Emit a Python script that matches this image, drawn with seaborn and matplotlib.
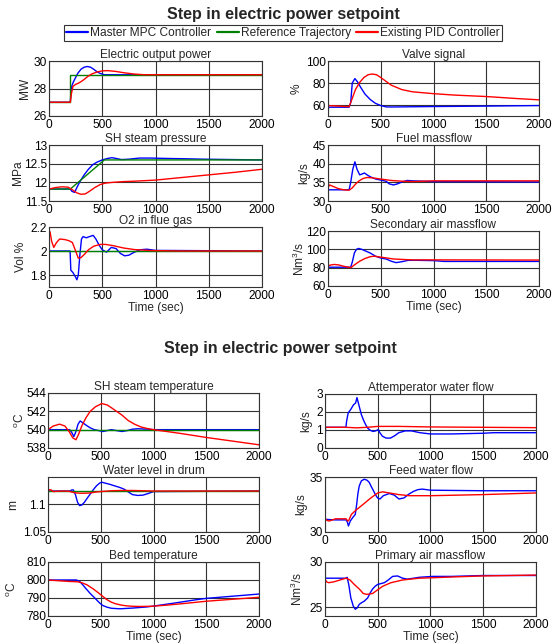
import matplotlib
matplotlib.use("Agg")
import matplotlib.pyplot as plt
from matplotlib.lines import Line2D
from matplotlib.ticker import FormatStrFormatter
import pandas as pd
import seaborn as sns

# ---------------- data ----------------
TITLE = "Step in electric power setpoint"
SERIES_NAMES = ["Master MPC Controller", "Reference Trajectory", "Existing PID Controller"]
X_TICKS = [0, 500, 1000, 1500, 2000]

# Electric output power (MW)
elec_mpc_t = [0, 200, 205, 215, 230, 250, 270, 300, 330, 360, 390, 420, 450, 480, 520, 2000]
elec_mpc_v = [27, 27, 27.6, 28.2, 28.5, 28.8, 29.1, 29.4, 29.55, 29.6, 29.55, 29.4, 29.22, 29.1, 29.0, 29.0]
elec_ref_t = [0, 200, 200, 2000]
elec_ref_v = [27, 27, 29, 29]
elec_pid_t = [0, 200, 210, 225, 250, 280, 320, 360, 400, 450, 500, 550, 620, 700, 800, 900, 2000]
elec_pid_v = [27, 27, 27.6, 28.15, 28.3, 28.4, 28.6, 28.85, 29.05, 29.2, 29.28, 29.3, 29.25, 29.15, 29.05, 29.0, 29.0]

# Valve signal (%)
valve_mpc_t = [0, 5, 200, 215, 230, 255, 280, 310, 350, 400, 450, 500, 550, 600, 1000, 1500, 2000]
valve_mpc_v = [50, 58, 58, 62, 80, 84, 81, 76, 70, 65, 61.5, 59.5, 58.3, 58.2, 58.6, 59.0, 59.5]
valve_pid_t = [0, 100, 200, 230, 260, 300, 340, 380, 420, 460, 500, 550, 600, 700, 800, 1000, 1200, 1500, 1800, 2000]
valve_pid_v = [59.5, 59, 58.5, 66, 74, 80.5, 85, 87.5, 88.2, 87.5, 85, 81.5, 78, 74, 72, 70.3, 69, 67.7, 65.8, 64.7]

# SH steam pressure (MPa)
shp_mpc_t = [0, 200, 215, 240, 260, 290, 330, 370, 410, 450, 500, 550, 590, 630, 680, 750, 850, 950, 1100, 1300, 1450, 2000]
shp_mpc_v = [11.82, 11.82, 11.76, 11.73, 11.85, 12.02, 12.2, 12.35, 12.47, 12.54, 12.6, 12.64, 12.66, 12.64, 12.61, 12.62, 12.65, 12.65, 12.64, 12.63, 12.62, 12.6]
shp_ref_t = [0, 200, 520, 2000]
shp_ref_v = [11.82, 11.82, 12.6, 12.6]
shp_pid_t = [0, 60, 120, 180, 220, 260, 300, 340, 380, 430, 480, 530, 600, 700, 800, 1000, 1250, 1500, 1750, 2000]
shp_pid_v = [11.82, 11.86, 11.88, 11.87, 11.8, 11.72, 11.68, 11.69, 11.76, 11.86, 11.94, 11.98, 12.0, 12.02, 12.03, 12.06, 12.13, 12.2, 12.27, 12.35]

# Fuel massflow (kg/s)
fuel_mpc_t = [0, 200, 215, 235, 255, 275, 300, 320, 345, 370, 400, 450, 500, 550, 580, 620, 660, 700, 750, 800, 900, 1000, 2000]
fuel_mpc_v = [33, 33, 35, 38.5, 40.5, 38.5, 37, 37.2, 37.5, 37, 36.5, 35.9, 35.6, 35.3, 34.6, 34.3, 34.6, 35.1, 35.5, 35.4, 35.3, 35.2, 35.1]
fuel_pid_t = [0, 15, 40, 100, 150, 200, 230, 260, 290, 330, 370, 420, 470, 520, 600, 700, 800, 1000, 2000]
fuel_pid_v = [33.5, 34.3, 34.0, 33.3, 33.0, 32.9, 33.5, 34.5, 35.3, 36.0, 36.3, 36.2, 36.0, 35.8, 35.5, 35.3, 35.2, 35.4, 35.4]

# O2 in flue gas (Vol %)
o2_mpc_t = [0, 198, 205, 225, 245, 262, 275, 290, 305, 320, 350, 380, 415, 440, 470, 500, 540, 585, 630, 670, 710, 750, 790, 850, 920, 1000, 2000]
o2_mpc_v = [2.0, 2.0, 1.84, 1.82, 1.79, 1.76, 1.8, 1.97, 2.1, 2.12, 2.11, 2.12, 2.13, 2.1, 2.05, 2.01, 1.99, 2.03, 2.02, 1.98, 1.96, 1.965, 1.985, 2.01, 2.015, 2.005, 2.0]
o2_ref_t = [0, 2000]
o2_ref_v = [2.0, 2.0]
o2_pid_t = [0, 10, 25, 45, 70, 100, 150, 190, 220, 250, 275, 300, 330, 370, 420, 480, 530, 600, 700, 800, 950, 1200, 2000]
o2_pid_v = [2.14, 2.16, 2.08, 2.03, 2.07, 2.1, 2.095, 2.085, 2.07, 2.0, 1.94, 1.945, 1.97, 2.01, 2.04, 2.055, 2.055, 2.045, 2.025, 2.012, 2.004, 2.0, 2.0]

# Secondary air massflow (Nm3/s)
sec_mpc_t = [0, 215, 230, 250, 270, 290, 320, 360, 400, 450, 500, 550, 600, 645, 700, 760, 850, 1000, 1100, 2000]
sec_mpc_v = [80.5, 80.5, 86, 96, 100, 101, 100, 98, 96, 92.5, 90.5, 89.5, 87, 85.5, 86.5, 88, 88, 87.7, 86.8, 86.8]
sec_pid_t = [0, 30, 60, 100, 150, 200, 220, 250, 300, 350, 400, 440, 500, 560, 620, 700, 800, 1000, 2000]
sec_pid_v = [82, 83, 83.5, 83, 81.5, 80.3, 80.2, 83, 87, 90, 92, 92.5, 91.5, 90.5, 89.5, 89, 88.5, 88.5, 88.3]

# SH steam temperature (oC)
sht_mpc_t = [0, 205, 225, 245, 265, 285, 305, 330, 360, 400, 440, 480, 520, 560, 600, 650, 700, 750, 800, 850, 950, 1000, 2000]
sht_mpc_v = [540, 540, 539.7, 539.25, 539.8, 540.6, 540.95, 540.75, 540.5, 540.2, 540.0, 539.9, 539.8, 539.9, 540.0, 539.9, 539.8, 539.9, 540.05, 540.1, 540.05, 540.0, 540.0]
sht_ref_t = [0, 2000]
sht_ref_v = [540, 540]
sht_pid_t = [0, 50, 110, 160, 200, 235, 265, 290, 320, 360, 400, 450, 510, 560, 600, 650, 700, 760, 820, 880, 950, 1000, 1250, 1500, 1750, 2000]
sht_pid_v = [540, 540.4, 540.6, 540.4, 539.8, 539.1, 538.9, 539.5, 540.4, 541.3, 542.0, 542.5, 542.85, 542.7, 542.4, 542.0, 541.6, 541.0, 540.6, 540.3, 540.1, 540.0, 539.6, 539.15, 538.75, 538.35]

# Attemperator water flow (kg/s)
att_mpc_t = [0, 5, 198, 205, 220, 245, 270, 290, 303, 325, 345, 365, 385, 405, 430, 455, 480, 505, 520, 545, 580, 620, 660, 700, 760, 820, 900, 1000, 1200, 1500, 1600, 2000]
att_mpc_v = [0.0, 1.15, 1.15, 1.5, 1.95, 2.15, 2.4, 2.5, 2.8, 2.3, 1.85, 1.55, 1.3, 1.1, 0.98, 0.92, 0.95, 1.02, 0.85, 0.65, 0.55, 0.55, 0.68, 0.85, 0.95, 0.95, 0.85, 0.78, 0.78, 0.82, 0.85, 0.85]
att_pid_t = [0, 200, 300, 400, 500, 700, 1000, 1500, 2000]
att_pid_v = [1.15, 1.15, 1.12, 1.15, 1.2, 1.2, 1.17, 1.15, 1.13]

# Water level in drum (m)
lvl_mpc_t = [0, 210, 225, 240, 260, 280, 300, 320, 345, 370, 400, 430, 460, 490, 510, 540, 580, 630, 680, 720, 760, 800, 850, 900, 950, 1000, 2000]
lvl_mpc_v = [1.1245, 1.1245, 1.1265, 1.1265, 1.118, 1.104, 1.098, 1.099, 1.104, 1.111, 1.119, 1.127, 1.134, 1.139, 1.1405, 1.139, 1.137, 1.134, 1.131, 1.128, 1.123, 1.118, 1.1165, 1.117, 1.120, 1.1235, 1.1245]
lvl_ref_t = [0, 2000]
lvl_ref_v = [1.1245, 1.1245]
lvl_pid_t = [0, 15, 30, 50, 80, 150, 200, 250, 300, 350, 400, 450, 500, 600, 700, 800, 900, 1000, 2000]
lvl_pid_v = [1.124, 1.127, 1.1265, 1.1235, 1.124, 1.1245, 1.124, 1.1215, 1.1205, 1.1205, 1.121, 1.1225, 1.1235, 1.125, 1.1255, 1.1255, 1.125, 1.1245, 1.1245]

# Feed water flow (kg/s)
fw_mpc_t = [0, 3, 100, 200, 212, 222, 240, 262, 287, 300, 312, 325, 345, 372, 400, 420, 440, 457, 478, 498, 521, 553, 610, 657, 701, 749, 796, 840, 880, 922, 1000, 1500, 2000]
fw_mpc_v = [32.3, 31.15, 31.1, 31.1, 30.9, 30.55, 31.0, 31.3, 31.6, 32.5, 33.5, 34.2, 34.65, 34.8, 34.7, 34.5, 34.1, 33.8, 33.4, 33.1, 33.0, 33.3, 33.5, 33.35, 33.0, 33.1, 33.45, 33.7, 33.85, 33.9, 33.8, 33.75, 33.75]
fw_pid_t = [0, 20, 40, 100, 200, 215, 225, 250, 295, 360, 435, 500, 545, 610, 700, 800, 1000, 1500, 2000]
fw_pid_v = [31.2, 31.05, 31.0, 31.2, 31.2, 31.0, 31.05, 31.6, 32.0, 32.5, 33.1, 33.55, 33.65, 33.55, 33.4, 33.3, 33.3, 33.4, 33.55]

# Bed temperature (oC)
bed_mpc_t = [0, 270, 300, 330, 360, 400, 430, 460, 490, 520, 560, 600, 680, 800, 930, 1000, 1200, 1400, 1500, 1750, 2000]
bed_mpc_v = [800, 800, 799.2, 797.3, 795.2, 792.5, 790.8, 789, 787.2, 785.8, 784.9, 784.3, 784.0, 784.4, 785.0, 785.5, 787.2, 789, 789.8, 791, 792.2]
bed_pid_t = [0, 100, 200, 280, 320, 370, 430, 490, 555, 600, 640, 700, 750, 800, 870, 980, 1120, 1300, 1500, 1750, 2000]
bed_pid_v = [800, 799.6, 799.2, 799.0, 798.5, 797.3, 795.0, 792.3, 789.2, 787.7, 786.8, 786.0, 785.6, 785.4, 785.3, 785.4, 786.0, 787.0, 788.2, 789.3, 790.4]

# Primary air massflow (Nm3/s)
pa_mpc_t = [0, 200, 210, 225, 245, 268, 287, 305, 325, 350, 372, 404, 430, 451, 475, 498, 530, 562, 600, 641, 688, 735, 782, 840, 893, 1020, 1200, 1500, 2000]
pa_mpc_v = [28.2, 28.2, 28.3, 27.5, 26.0, 25.1, 24.75, 24.9, 25.3, 25.5, 25.65, 26.0, 26.6, 27.0, 27.3, 27.5, 27.6, 27.7, 28.0, 28.4, 28.45, 28.2, 28.1, 28.2, 28.3, 28.4, 28.4, 28.5, 28.5]
pa_pid_t = [0, 15, 35, 85, 142, 199, 237, 278, 325, 363, 395, 451, 498, 546, 625, 735, 893, 1020, 1240, 1490, 1750, 2000]
pa_pid_v = [28.1, 27.8, 27.7, 27.8, 28.0, 28.2, 28.0, 27.5, 27.0, 26.5, 26.4, 26.5, 26.9, 27.3, 27.7, 28.0, 28.2, 28.25, 28.35, 28.45, 28.5, 28.55]

# ---------------- style ----------------
sns.set_theme(style="white")
plt.rcParams["font.family"] = ["Liberation Sans", "DejaVu Sans"]
plt.rcParams["mathtext.fontset"] = "custom"
plt.rcParams["mathtext.rm"] = "Liberation Sans"
plt.rcParams["mathtext.it"] = "Liberation Sans:italic"
plt.rcParams["mathtext.bf"] = "Liberation Sans:bold"

COLORS = {"mpc": "#0000ff", "ref": "#008000", "pid": "#ff0000"}
LW = 1.0
FS = 8.6
GRID_C = "#333333"
EDGE_C = "#333333"
W, H = 552, 643

fig = plt.figure(figsize=(W / 100, H / 100), dpi=100)
fig.patch.set_facecolor("white")

DEGC = r"$^{\mathrm{o}}$C"
NM3 = r"Nm$^{3}$/s"

PANELS = [
    dict(title="Electric output power", ylabel="MW", ylim=(26, 30), yticks=[26, 28, 30],
         box=(49, 61, 262, 116), lab_x=25,
         series=[("mpc", elec_mpc_t, elec_mpc_v), ("ref", elec_ref_t, elec_ref_v), ("pid", elec_pid_t, elec_pid_v)]),
    dict(title="SH steam pressure", ylabel="MPa", ylim=(11.5, 13), yticks=[11.5, 12, 12.5, 13],
         box=(49, 145, 262, 201), lab_x=18,
         series=[("mpc", shp_mpc_t, shp_mpc_v), ("ref", shp_ref_t, shp_ref_v), ("pid", shp_pid_t, shp_pid_v)]),
    dict(title="O2 in flue gas", ylabel="Vol %", ylim=(1.7, 2.2), yticks=[1.8, 2, 2.2],
         box=(49, 227, 262, 287), lab_x=21, xlabel=True,
         series=[("mpc", o2_mpc_t, o2_mpc_v), ("ref", o2_ref_t, o2_ref_v), ("pid", o2_pid_t, o2_pid_v)]),
    dict(title="Valve signal", ylabel="%", ylim=(50, 100), yticks=[60, 80, 100],
         box=(328, 61, 539, 116), lab_x=297,
         series=[("mpc", valve_mpc_t, valve_mpc_v), ("pid", valve_pid_t, valve_pid_v)]),
    dict(title="Fuel massflow", ylabel="kg/s", ylim=(30, 45), yticks=[30, 35, 40, 45],
         box=(328, 145, 539, 201), lab_x=304,
         series=[("mpc", fuel_mpc_t, fuel_mpc_v), ("pid", fuel_pid_t, fuel_pid_v)]),
    dict(title="Secondary air massflow", ylabel=NM3, ylim=(60, 120), yticks=[60, 80, 100, 120],
         box=(328, 231, 539, 286), lab_x=299, xlabel=True,
         series=[("mpc", sec_mpc_t, sec_mpc_v), ("pid", sec_pid_t, sec_pid_v)]),
    dict(title="SH steam temperature", ylabel=DEGC, ylim=(538, 544), yticks=[538, 540, 542, 544],
         box=(48, 393, 259, 448), lab_x=20,
         series=[("mpc", sht_mpc_t, sht_mpc_v), ("ref", sht_ref_t, sht_ref_v), ("pid", sht_pid_t, sht_pid_v)]),
    dict(title="Water level in drum", ylabel="m", ylim=(1.05, 1.15), yticks=[1.05, 1.1],
         box=(48, 477, 259, 532), lab_x=13,
         series=[("mpc", lvl_mpc_t, lvl_mpc_v), ("ref", lvl_ref_t, lvl_ref_v), ("pid", lvl_pid_t, lvl_pid_v)]),
    dict(title="Bed temperature", ylabel=DEGC, ylim=(780, 810), yticks=[780, 790, 800, 810],
         box=(48, 562, 259, 616), lab_x=12, xlabel=True,
         series=[("mpc", bed_mpc_t, bed_mpc_v), ("pid", bed_pid_t, bed_pid_v)]),
    dict(title="Attemperator water flow", ylabel="kg/s", ylim=(0, 3), yticks=[0, 1, 2, 3],
         box=(325, 394, 536, 448), lab_x=306,
         series=[("mpc", att_mpc_t, att_mpc_v), ("pid", att_pid_t, att_pid_v)]),
    dict(title="Feed water flow", ylabel="kg/s", ylim=(30, 35), yticks=[30, 35],
         box=(325, 477, 536, 532), lab_x=301,
         series=[("mpc", fw_mpc_t, fw_mpc_v), ("pid", fw_pid_t, fw_pid_v)]),
    dict(title="Primary air massflow", ylabel=NM3, ylim=(24, 30), yticks=[25, 30],
         box=(325, 562, 536, 616), lab_x=297, xlabel=True,
         series=[("mpc", pa_mpc_t, pa_mpc_v), ("pid", pa_pid_t, pa_pid_v)]),
]

for p in PANELS:
    x0, y0, x1, y1 = p["box"]
    ax = fig.add_axes([x0 / W, 1 - y1 / H, (x1 - x0) / W, (y1 - y0) / H])
    for key, t, v in p["series"]:
        df = pd.DataFrame({"t": t, "v": v})
        sns.lineplot(data=df, x="t", y="v", ax=ax, color=COLORS[key], lw=LW,
                     estimator=None, sort=False, legend=False)
    ax.set_xlim(0, 2000)
    ax.set_ylim(*p["ylim"])
    ax.set_xticks(X_TICKS)
    ax.set_yticks(p["yticks"])
    ax.yaxis.set_major_formatter(FormatStrFormatter("%g"))
    ax.tick_params(axis="both", length=0, labelsize=FS, colors="black")
    ax.tick_params(axis="y", pad=1.5)
    ax.tick_params(axis="x", pad=2)
    ax.grid(True, color=GRID_C, lw=0.8)
    ax.set_axisbelow(True)
    for s in ax.spines.values():
        s.set_visible(True)
        s.set_color(EDGE_C)
        s.set_linewidth(0.8)
    ax.set_title(p["title"], fontsize=FS, pad=2.5)
    ax.set_ylabel(p["ylabel"], fontsize=FS, va="center")
    ax.yaxis.set_label_coords(p["lab_x"] / W, 1 - (y0 + y1) / 2 / H, transform=fig.transFigure)
    if p.get("xlabel"):
        ax.set_xlabel("Time (sec)", fontsize=FS, labelpad=0.5)
    else:
        ax.set_xlabel("")

fig.text(283 / W, 1 - 14 / H, TITLE, ha="center", va="center", fontsize=11.5, fontweight="bold")
fig.text(280 / W, 1 - 348 / H, TITLE, ha="center", va="center", fontsize=11.5, fontweight="bold")

handles = [Line2D([], [], color=COLORS[k], lw=1.6) for k in ("mpc", "ref", "pid")]
leg = fig.legend(handles, SERIES_NAMES, loc="center", bbox_to_anchor=(283 / W, 1 - 33 / H),
                 ncol=3, frameon=True, fancybox=False, edgecolor=EDGE_C, framealpha=1,
                 handlelength=1.85, handletextpad=0.15, columnspacing=0.45,
                 borderpad=0.2, borderaxespad=0, fontsize=FS)
leg.get_frame().set_linewidth(0.8)

fig.savefig("out.png", dpi=100, facecolor="white")
